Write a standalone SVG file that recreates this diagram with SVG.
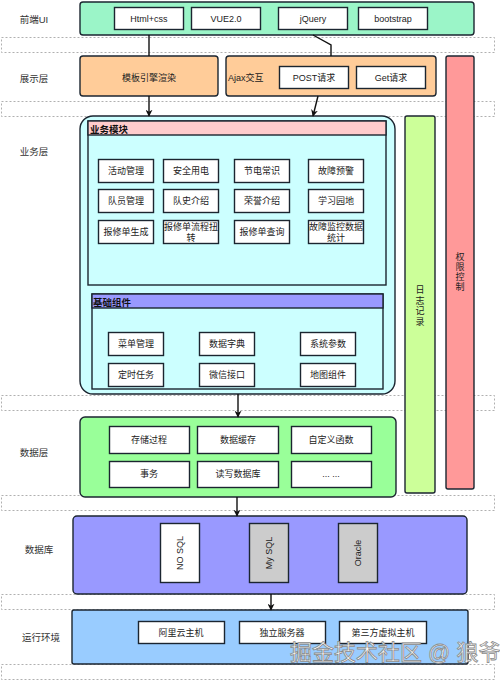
<svg xmlns="http://www.w3.org/2000/svg" width="500" height="681" viewBox="0 0 500 681">
<style>
text{font-family:"Liberation Sans","Noto Sans CJK SC",sans-serif;font-size:9px;fill:#222;text-anchor:middle;dominant-baseline:central}
.lbl{font-size:9.5px;fill:#333}
.band{fill:none;stroke:#b0b0b0;stroke-width:1;stroke-dasharray:2 2}
.box{fill:#fff;stroke:#1b2530;stroke-width:1.4}
.gbox{fill:#cccccc;stroke:#1b2530;stroke-width:1.4}
.blk{stroke:#1b2530;stroke-width:1.4}
.hdr{font-weight:bold;text-anchor:start;font-size:9.5px;fill:#111}
.conn{fill:none;stroke:#111;stroke-width:1.4}
.wm{font-size:22px;fill:#fff;stroke:#8a8a8a;stroke-width:0.8;text-anchor:start}
</style>
<defs>
<marker id="arr" viewBox="0 0 10 10" refX="9" refY="5" markerWidth="7" markerHeight="7" orient="auto" markerUnits="userSpaceOnUse">
<path d="M0,0 L10,5 L0,10 L3,5 Z" fill="#111"/>
</marker>
</defs>
<rect width="500" height="681" fill="#fff"/>
<g id="bands">
<rect class="band" x="1.5" y="37.5" width="493" height="15"/>
<rect class="band" x="1.5" y="101.5" width="493" height="15"/>
<rect class="band" x="1.5" y="395.5" width="493" height="15"/>
<rect class="band" x="1.5" y="495.5" width="493" height="15"/>
<rect class="band" x="1.5" y="594.5" width="493" height="15"/>
<rect class="band" x="1.5" y="664.5" width="493" height="15"/>
</g>
<g id="labels">
<text class="lbl" x="34" y="19">前端UI</text>
<text class="lbl" x="34" y="78">展示层</text>
<text class="lbl" x="34" y="151">业务层</text>
<text class="lbl" x="34" y="452">数据层</text>
<text class="lbl" x="39" y="549">数据库</text>
<text class="lbl" x="41" y="637">运行环境</text>
</g>
<g id="frontend">
<rect class="blk" x="80" y="2" width="394" height="33" rx="3" fill="#9bf5c8"/>
<rect class="box" x="114.5" y="7.5" width="69" height="22"/><text x="149" y="19">Html+css</text>
<rect class="box" x="191.5" y="7.5" width="69" height="22"/><text x="226" y="19">VUE2.0</text>
<rect class="box" x="278.5" y="7.5" width="69" height="22"/><text x="313" y="19">jQuery</text>
<rect class="box" x="358.5" y="7.5" width="69" height="22"/><text x="393" y="19">bootstrap</text>
</g>
<g id="auth">
<rect class="blk" x="446" y="56" width="28" height="433" rx="2" fill="#ff9999"/>
<text x="460" y="257">权</text><text x="460" y="267">限</text><text x="460" y="277">控</text><text x="460" y="287">制</text>
</g>
<g id="log">
<rect class="blk" x="405" y="116" width="30" height="377" rx="2" fill="#ccff99"/>
<text x="420" y="290">日</text><text x="420" y="300.5">志</text><text x="420" y="311">记</text><text x="420" y="321.5">录</text>
</g>
<g id="template">
<rect class="blk" x="80" y="56" width="138" height="40" rx="3" fill="#ffcc99"/>
<text x="149" y="78">模板引擎渲染</text>
</g>
<g id="ajax">
<rect class="blk" x="226" y="56" width="210" height="40" rx="3" fill="#ffcc99"/>
<text x="228" y="78" style="text-anchor:start">Ajax交互</text>
<rect class="box" x="279.5" y="66.5" width="69" height="22"/><text x="314" y="78">POST请求</text>
<rect class="box" x="356.5" y="66.5" width="69" height="22"/><text x="391" y="78">Get请求</text>
</g>
<g id="business">
<rect class="blk" x="80" y="116" width="315" height="278" rx="13" fill="#ccffff"/>
<rect class="blk" x="88" y="121" width="298" height="164" fill="#ccffff"/>
<rect class="blk" x="88" y="121" width="298" height="14" fill="#ffcccc"/>
<text class="hdr" x="90" y="129">业务模块</text>
<rect class="box" x="98.5" y="159.5" width="55" height="23"/><text x="126" y="171">活动管理</text>
<rect class="box" x="163.5" y="159.5" width="55" height="23"/><text x="191" y="171">安全用电</text>
<rect class="box" x="234.5" y="159.5" width="55" height="23"/><text x="262" y="171">节电常识</text>
<rect class="box" x="308.5" y="159.5" width="55" height="23"/><text x="336" y="171">故障预警</text>
<rect class="box" x="98.5" y="189.5" width="55" height="23"/><text x="126" y="201">队员管理</text>
<rect class="box" x="163.5" y="189.5" width="55" height="23"/><text x="191" y="201">队史介绍</text>
<rect class="box" x="234.5" y="189.5" width="55" height="23"/><text x="262" y="201">荣誉介绍</text>
<rect class="box" x="308.5" y="189.5" width="55" height="23"/><text x="336" y="201">学习园地</text>
<rect class="box" x="98.5" y="220.5" width="55" height="23"/><text x="126" y="232">报修单生成</text>
<rect class="box" x="163.5" y="220.5" width="55" height="23"/><text x="191" y="227">报修单流程扭</text><text x="191" y="238">转</text>
<rect class="box" x="234.5" y="220.5" width="55" height="23"/><text x="262" y="232">报修单查询</text>
<rect class="box" x="308.5" y="220.5" width="55" height="23"/><text x="336" y="227">故障监控数据</text><text x="336" y="238">统计</text>
<rect class="blk" x="92" y="294" width="291" height="95" fill="#ccffff"/>
<rect class="blk" x="92" y="294" width="291" height="14" fill="#9999ff"/>
<text class="hdr" x="93" y="302">基础组件</text>
<rect class="box" x="108.5" y="332.5" width="55" height="23"/><text x="136" y="344">菜单管理</text>
<rect class="box" x="199.5" y="332.5" width="55" height="23"/><text x="227" y="344">数据字典</text>
<rect class="box" x="300.5" y="332.5" width="55" height="23"/><text x="328" y="344">系统参数</text>
<rect class="box" x="108.5" y="363.5" width="55" height="23"/><text x="136" y="375">定时任务</text>
<rect class="box" x="199.5" y="363.5" width="55" height="23"/><text x="227" y="375">微信接口</text>
<rect class="box" x="300.5" y="363.5" width="55" height="23"/><text x="328" y="375">地图组件</text>
</g>
<g id="datalayer">
<rect class="blk" x="80" y="417" width="316" height="80" rx="5" fill="#99ff99"/>
<rect class="box" x="109.5" y="426.5" width="80" height="27"/><text x="149" y="440">存储过程</text>
<rect class="box" x="197.5" y="426.5" width="81" height="27"/><text x="238" y="440">数据缓存</text>
<rect class="box" x="291.5" y="426.5" width="80" height="27"/><text x="331" y="440">自定义函数</text>
<rect class="box" x="109.5" y="461.5" width="80" height="26"/><text x="149" y="474">事务</text>
<rect class="box" x="197.5" y="461.5" width="81" height="26"/><text x="238" y="474">读写数据库</text>
<rect class="box" x="291.5" y="461.5" width="80" height="26"/><text x="331" y="474">... ...</text>
</g>
<g id="database">
<rect class="blk" x="73" y="516" width="394" height="78" rx="4" fill="#9999ff"/>
<rect class="box" x="160.5" y="523.5" width="39" height="59"/><text transform="translate(180,553) rotate(-90)">NO SQL</text>
<rect class="gbox" x="249.5" y="523.5" width="39" height="59"/><text transform="translate(269,553) rotate(-90)">My SQL</text>
<rect class="gbox" x="338.5" y="523.5" width="39" height="59"/><text transform="translate(358,553) rotate(-90)">Oracle</text>
</g>
<g id="runtime">
<rect class="blk" x="72" y="610" width="396" height="54" rx="2" fill="#99ccff"/>
<rect class="box" x="138.5" y="621.5" width="86" height="22"/><text x="181" y="633">阿里云主机</text>
<rect class="box" x="239.5" y="621.5" width="86" height="22"/><text x="282" y="633">独立服务器</text>
<rect class="box" x="339.5" y="621.5" width="87" height="22"/><text x="383" y="633">第三方虚拟主机</text>
</g>
<g id="connectors">
<path class="conn" d="M149,35 V56"/>
<path class="conn" d="M313,35 L331,45 V56"/>
<path class="conn" d="M149,96 V116" marker-end="url(#arr)"/>
<path class="conn" d="M318,96 L313,116" marker-end="url(#arr)"/>
<path class="conn" d="M238,394 V417" marker-end="url(#arr)"/>
<path class="conn" d="M237,497 V516" marker-end="url(#arr)"/>
<path class="conn" d="M271,594 V610" marker-end="url(#arr)"/>
</g>
<text class="wm" x="290" y="652">掘金技术社区 @ 狼爷</text>
</svg>
